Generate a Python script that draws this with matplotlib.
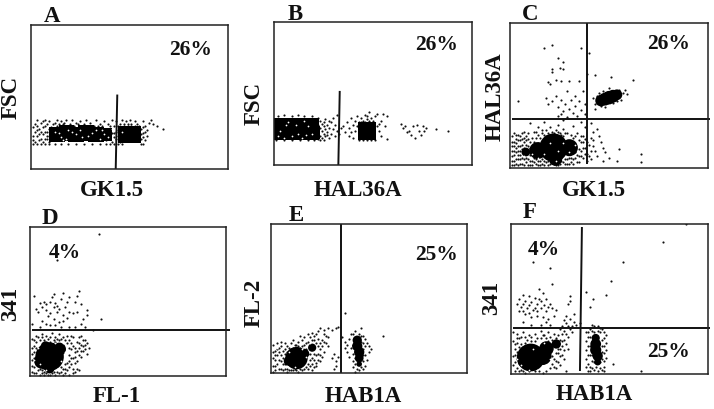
import matplotlib
matplotlib.use("Agg")
import matplotlib.pyplot as plt

plt.rcParams["font.family"] = ["Liberation Serif", "DejaVu Serif"]
plt.rcParams["font.weight"] = "bold"

W, H = 714, 409

# panel boxes in image pixels: left, right, top, bottom
boxes = [(31, 228, 25, 169), (274, 472, 22, 165), (510, 708, 23, 168),
         (30, 226, 227, 376), (271, 467, 224, 373), (511, 708, 224, 374)]

# dense parts of each plot: x, y in percent of the panel, then mark area
a_core = [(13, 24, 130), (18, 25, 130), (23, 24, 130), (28, 25, 130), (33, 24, 130), (38, 24, 85),
          (48.5, 24, 140), (51.5, 24, 140)]
b_core = [(4, 25.5, 250), (9, 25.5, 250), (13, 25.5, 250), (17, 25.5, 250), (20, 23, 90), (47, 23.5, 170)]
c_core = [(22, 14, 420), (14, 12, 150), (30, 14, 150), (23, 6, 90), (8, 11, 40),
          (46, 46.5, 70), (48, 47.5, 85), (50, 48.5, 95), (52, 49.5, 85), (54, 50.5, 60)]
d_core = [(10, 13, 420), (6, 10, 120), (15, 18, 90), (8, 20, 50), (10, 5, 50)]
e_core = [(13, 10, 260), (9, 8, 50), (17, 13, 50), (21, 17, 35),
          (44, 22, 45), (44, 18, 55), (45, 14, 55), (45, 10, 40), (45, 6, 16)]
f_core = [(10, 11, 400), (16, 12, 170), (18, 17, 110), (23, 20, 45), (6, 8, 50),
          (43, 24, 35), (43, 20, 60), (43, 16, 65), (44, 12, 55), (44, 8, 25)]

# single events, x and y in percent of the panel
a_dots = [(x, 17.6) for x in [1, 3, 5, 7, 9, 12, 15, 19, 23, 27, 31, 35, 38, 40, 42, 44, 46, 56, 57]] + [
    (1, 20), (2, 26), (2, 31), (3, 23), (3, 34), (4, 20), (4, 28), (5, 32), (6, 24), (6, 29), (7, 21), (7, 34),
    (8, 26), (8, 31), (9, 23), (9, 33), (10, 29), (12, 32), (13, 34), (14, 31), (15, 33), (17, 32), (18, 34),
    (20, 31), (21, 34), (23, 32), (25, 33), (27, 31), (28, 34), (30, 32), (32, 30), (33, 34), (35, 31), (37, 33),
    (38, 28), (38, 20), (39, 24), (39, 31), (40, 22), (40, 27), (41, 34), (41, 19), (42, 25), (42, 30), (43, 21),
    (43, 33), (44, 27), (44, 23), (45, 31), (45, 19), (46, 28), (46, 34), (47, 31), (48, 33), (49, 30), (50, 34),
    (51, 31), (52, 29), (53, 33), (54, 31), (55, 30), (55, 27), (56, 24), (56, 21), (57, 29), (57, 33), (58, 26),
    (58, 20), (59, 23), (60, 32), (61, 34), (62, 31), (67, 28), (64, 30),
    (1, 23), (1, 29), (2, 19), (3, 27), (3, 30), (4, 24), (5, 21), (5, 26), (6, 19), (6, 33), (7, 26), (7, 30),
    (8, 21), (8, 23), (9, 19), (9, 28), (10, 25), (10, 21), (11, 31), (11, 27), (13, 30), (16, 31), (19, 30),
    (22, 30), (24, 31), (26, 30), (29, 30), (31, 30), (34, 30), (36, 30), (39, 28), (40, 30), (41, 25), (42, 22),
    (43, 26), (44, 30), (45, 25), (46, 22), (47, 30), (49, 31), (51, 30), (53, 30), (55, 23), (56, 28), (57, 22),
    (57, 25), (58, 30), (59, 27)]
a_specks = [(14, 25), (19, 27), (23, 24), (25, 27), (29, 23), (33, 27), (18, 21), (12, 26), (37, 24), (27, 19),
            (35, 21), (16, 20), (21, 26), (31, 25), (46, 26), (39, 22), (41, 28), (15, 22), (26, 22), (36, 27)]

b_dots = [(x, 17.3) for x in [1, 5, 9, 13, 17, 20, 23, 25, 43, 45, 47, 49, 51]] + [
    (2, 34), (5, 35), (9, 34), (12, 35), (15, 34), (19, 34), (22, 33), (23, 31), (24, 29), (25, 27), (26, 25),
    (26, 20), (27, 28), (27, 23), (28, 19), (28, 26), (29, 30), (29, 22), (30, 25), (30, 33), (31, 20), (31, 28),
    (32, 35), (32, 24), (35, 27), (36, 23), (37, 30), (38, 20), (38, 26), (39, 33), (39, 23), (40, 28), (40, 19),
    (41, 31), (41, 24), (42, 34), (42, 27), (43, 30), (44, 33), (45, 31), (46, 35), (47, 32), (48, 37), (49, 33),
    (50, 31), (51, 34), (52, 36), (53, 29), (53, 24), (54, 31), (54, 20), (55, 36), (56, 27), (57, 34), (57, 18),
    (64, 29), (65, 26), (66, 27), (67, 23), (69, 21), (70, 27), (71, 19), (72, 28), (73, 24), (74, 21), (75, 27),
    (76, 24), (77, 26), (82, 25), (88, 24), (68, 24),
    (46, 30), (47, 34), (48, 31), (49, 29), (45, 29), (44, 30), (50, 29), (21, 31), (22, 28), (23, 26), (24, 24),
    (25, 22), (23, 20), (24, 19), (22, 18), (25, 30), (26, 32), (27, 21), (28, 31), (33, 22), (34, 26), (52, 27)]
b_specks = [(3, 24), (7, 30), (11, 28), (15, 31), (19, 22), (2, 20), (12, 22), (17, 27), (6, 28), (9, 20), (14, 19),
            (5, 19), (16, 21)]

c_dots = [(17, 83), (21, 85), (36, 83), (40, 79), (24, 76), (27, 73), (27, 68), (21, 68), (21, 66), (25, 69), (19, 59),
          (20, 58), (23, 61), (26, 60), (30, 60), (35, 60), (39, 65), (43, 64), (51, 63), (62, 61), (4, 46), (18, 48),
          (19, 44), (21, 46), (23, 50), (24, 42), (26, 47), (27, 39), (28, 44), (29, 53), (30, 41), (31, 47), (32, 38),
          (33, 50), (33, 43), (35, 46), (36, 40), (37, 53), (38, 37), (38, 44), (24, 36), (26, 37), (29, 35), (34, 36),
          (42, 48), (43, 44), (43, 41), (44, 50), (45, 52), (46, 43), (47, 53), (48, 42), (50, 55), (52, 45), (54, 46),
          (55, 54), (57, 52), (58, 54), (56, 47), (59, 51), (10, 31), (14, 28), (17, 32), (24, 30), (27, 33), (32, 29),
          (36, 32), (38, 28), (41, 31), (42, 25), (44, 27), (45, 22), (46, 18), (47, 14), (48, 11), (50, 7), (54, 5),
          (47, 5), (55, 13), (66, 4), (66, 10), (41, 21), (42, 15), (43, 12), (44, 8), (41, 6), (39, 10), (39, 18),
          (37, 22), (36, 8), (35, 4), (34, 24), (32, 21), (33, 11), (31, 7), (29, 3), (29, 24), (27, 27), (26, 5),
          (24, 2), (23, 26), (20, 28), (21, 22), (18, 22), (17, 5), (16, 24), (15, 8), (14, 2), (13, 21), (12, 11),
          (12, 25), (11, 5), (10, 18), (10, 9), (9, 15), (9, 2), (8, 22), (8, 11), (7, 6), (7, 18), (6, 24), (6, 13),
          (5, 3), (5, 19), (5, 9), (4, 15), (4, 23), (3, 6), (3, 11), (3, 20), (2, 2), (2, 15), (2, 24), (1, 8),
          (1, 18), (1, 12), (1, 2), (37, 14), (36, 18), (35, 13), (11, 14), (13, 9), (16, 11), (17, 19), (14, 17),
          (1, 5), (1, 15), (1, 22), (2, 5), (2, 9), (2, 12), (2, 18), (3, 3), (3, 14), (3, 17), (3, 23), (4, 2), (4, 6),
          (4, 9), (4, 12), (4, 19), (5, 6), (5, 12), (5, 15), (5, 22), (6, 3), (6, 7), (6, 16), (6, 20), (7, 2), (7, 10),
          (7, 14), (7, 21), (7, 25), (8, 4), (8, 7), (8, 16), (8, 19), (9, 6), (9, 20), (9, 24), (10, 2), (10, 5), (10, 14),
          (11, 2), (11, 9), (11, 21), (12, 4), (12, 7), (12, 18), (13, 3), (13, 6), (13, 25), (14, 5), (14, 23), (15, 2),
          (15, 5), (15, 21), (16, 3), (16, 6), (16, 26), (17, 2), (17, 8), (17, 23), (18, 4), (18, 7), (18, 26), (19, 2),
          (19, 5), (19, 24), (20, 3), (20, 7), (21, 5), (21, 25), (22, 3), (22, 24), (23, 2), (23, 22), (24, 4), (24, 25),
          (25, 3), (25, 24), (26, 7), (26, 23), (27, 4), (27, 22), (28, 6), (28, 3), (28, 24), (29, 6), (30, 3), (30, 7),
          (31, 4), (31, 23), (32, 6), (32, 3), (33, 7), (33, 22), (34, 4), (34, 9), (35, 8), (35, 19), (36, 12), (36, 22),
          (37, 7), (37, 18), (38, 10), (38, 20), (38, 14), (39, 5), (40, 16), (40, 8), (41, 12), (42, 19)]
c_specks = [(20, 17), (24, 12), (27, 17), (17, 10), (30, 11), (23, 5), (11, 10), (33, 16), (7, 8), (14, 7)]

d_dots = [(35, 95), (14, 78), (25, 57), (24, 54), (17, 56), (12, 55), (20, 53), (2, 54), (11, 53), (16, 52),
          (19, 50), (23, 50), (26, 48), (5, 49), (7, 50), (8, 48), (10, 50), (13, 49), (14, 47), (3, 45), (4, 43),
          (6, 46), (8, 44), (10, 42), (12, 46), (14, 43), (15, 45), (17, 41), (18, 46), (20, 43), (22, 42), (24, 43),
          (29, 44), (29, 41), (36, 38), (27, 38), (17, 37), (19, 39), (15, 36), (12, 38), (9, 40), (6, 37), (5, 33),
          (8, 35), (10, 34), (13, 34), (16, 33), (20, 33), (23, 33), (26, 35), (28, 33), (32, 31), (1, 35),
          (25, 26), (27, 24), (29, 22), (30, 19), (29, 15), (28, 21), (27, 17), (26, 13), (25, 19), (24, 23), (26, 27),
          (23, 16), (22, 26), (23, 9), (21, 27), (20, 24), (19, 27), (17, 26), (15, 28), (13, 26), (11, 29), (8, 27),
          (6, 28), (3, 27), (1, 25), (24, 5), (23, 3), (25, 4), (22, 2), (20, 1), (18, 2), (20, 6), (18, 8), (21, 12),
          (2, 2), (4, 4), (1, 7), (6, 2), (3, 9), (9, 1), (12, 3), (15, 2), (16, 6), (1, 15), (2, 20), (3, 23), (21, 18),
          (1, 3), (1, 11), (1, 19), (2, 6), (2, 12), (2, 16), (2, 24), (3, 2), (3, 13), (3, 19), (4, 8), (4, 26), (5, 1),
          (5, 5), (5, 24), (6, 4), (6, 26), (7, 1), (7, 3), (7, 24), (8, 2), (9, 25), (10, 1), (10, 23), (10, 26), (11, 2),
          (12, 24), (13, 1), (13, 23), (14, 3), (14, 25), (15, 24), (16, 3), (16, 25), (17, 1), (17, 5), (18, 5), (18, 24),
          (19, 4), (19, 9), (19, 22), (20, 10), (20, 14), (20, 19), (21, 8), (21, 22), (22, 5), (22, 12), (22, 20), (23, 13),
          (23, 19), (24, 10), (24, 17), (25, 14), (25, 22), (26, 17), (26, 21), (27, 20), (28, 18), (28, 24)]
d_specks = [(3, 5), (5, 8), (2, 11), (16, 10), (19, 12), (14, 5), (4, 19), (17, 22), (8, 4), (13, 22), (18, 16)]

e_dots = [(38, 40), (57, 25), (34, 31), (33, 30), (31, 29), (29, 30), (27, 29), (25, 30), (24, 28), (23, 26), (28, 25),
          (29, 24), (27, 26), (26, 22), (25, 20), (24, 23), (22, 22), (20, 24), (21, 27), (19, 26), (18, 20), (17, 24),
          (16, 22), (15, 25), (14, 21), (13, 19), (11, 22), (10, 20), (9, 17), (7, 20), (5, 21), (3, 20), (1, 19),
          (2, 15), (4, 17), (6, 15), (1, 10), (3, 12), (5, 8), (7, 6), (2, 5), (4, 3), (1, 1), (6, 2), (8, 3), (10, 2),
          (13, 2), (16, 2), (19, 3), (21, 2), (23, 5), (25, 8), (22, 9), (27, 14), (24, 13), (29, 18), (31, 10), (32, 13),
          (33, 8), (34, 11), (33, 5), (32, 3), (36, 24), (38, 21), (38, 17), (39, 14), (39, 19), (40, 23), (40, 11),
          (41, 17), (41, 26), (42, 8), (42, 4), (42, 26), (43, 28), (46, 30), (47, 25), (48, 23), (49, 20), (50, 18),
          (47, 16), (48, 12), (50, 14), (51, 16), (49, 9), (47, 8), (47, 3), (45, 2), (43, 1), (44, 24), (46, 21),
          (1, 5), (1, 14), (2, 2), (2, 9), (2, 12), (3, 6), (3, 16), (4, 9), (4, 14), (5, 3), (5, 12), (5, 18), (6, 6),
          (6, 10), (7, 3), (7, 13), (7, 16), (8, 1), (8, 14), (8, 18), (9, 2), (9, 14), (10, 16), (11, 2), (11, 17), (12, 3),
          (12, 19), (13, 17), (14, 1), (14, 18), (15, 3), (15, 17), (16, 18), (17, 3), (17, 19), (18, 4), (18, 16), (19, 6),
          (19, 13), (19, 21), (20, 5), (20, 9), (20, 13), (21, 6), (21, 10), (21, 22), (22, 4), (22, 13), (22, 25), (23, 7),
          (23, 12), (23, 20), (24, 9), (24, 18), (25, 12), (25, 16), (26, 11), (26, 18), (27, 21), (28, 20), (42, 13),
          (42, 19), (43, 6), (43, 10), (46, 25), (46, 17), (46, 4), (47, 12), (47, 20), (48, 5), (48, 18), (44, 3), (45, 26)]
e_specks = [(4, 6), (9, 14), (3, 17), (18, 11), (8, 5), (20, 20), (12, 4), (16, 16)]

f_dots = [(89, 100), (77, 88), (57, 75), (51, 62), (48, 53), (41.5, 50), (38, 55), (40, 45), (11, 75), (20, 71), (21, 60),
          (30, 52), (30, 49), (29, 47), (14, 57), (6, 53), (9, 52), (12, 51), (16, 54), (18, 50), (4, 50), (7, 49),
          (10, 48), (13, 47), (15, 49), (17, 46), (20, 47), (3, 47), (5, 45), (8, 44), (11, 43), (13, 42), (15, 44),
          (18, 42), (21, 44), (23, 43), (7, 40), (10, 38), (13, 39), (16, 38), (19, 37), (22, 39), (6, 35), (10, 33),
          (15, 33), (18, 35), (20, 33), (28, 39), (27, 36), (32, 40), (30, 37), (32, 35), (33, 33), (35, 34), (31, 32),
          (29, 32), (28, 34), (26, 32), (25, 30), (27, 29), (28, 27), (29, 25), (30, 30), (31, 28), (26, 27), (27, 23),
          (25, 17), (26, 13), (27, 10), (24, 14), (23, 9), (25, 6), (22, 5), (20, 4), (18, 2), (16, 1), (28, 2),
          (1, 28), (3, 27), (6, 28), (9, 26), (12, 27), (15, 29), (1, 22), (2, 17), (1, 12), (1, 6), (2, 2), (5, 3),
          (3, 21), (4, 24), (19, 28), (22, 27), (17, 26),
          (38, 28), (38, 22), (38, 16), (38, 10), (38, 5), (39, 25), (39, 19), (39, 13), (39, 7), (39, 2), (40, 30),
          (41, 29), (41, 4), (41, 9), (42, 3), (43, 5), (44, 2), (45, 4), (46, 3), (47, 5), (47, 9), (47, 14), (47, 19),
          (47, 24), (47, 28), (46, 30), (48, 11), (48, 16), (48, 21), (48, 26), (45, 31), (44, 32), (42, 32), (41, 33),
          (52, 7), (66, 2), (40, 13), (46, 23),
          (2, 8), (2, 13), (2, 20), (3, 4), (3, 10), (3, 15), (3, 24), (4, 2), (4, 14), (4, 18), (5, 20), (5, 25), (6, 2),
          (6, 18), (7, 1), (7, 21), (7, 25), (8, 23), (9, 2), (10, 22), (10, 25), (12, 2), (12, 22), (13, 24), (14, 2),
          (15, 24), (16, 26), (18, 24), (19, 22), (20, 25), (21, 23), (23, 24), (24, 26), (25, 23), (26, 22), (21, 7),
          (22, 10), (23, 4), (24, 8), (25, 12), (21, 12), (23, 14), (27, 16), (26, 19), (28, 20), (29, 17), (24, 17),
          (40, 5), (40, 19), (40, 25), (41, 13), (41, 19), (42, 8), (42, 28), (45, 8), (45, 28), (46, 10), (46, 15), (46, 19),
          (39, 28), (40, 2), (44, 29), (47, 2), (6, 47), (9, 46), (12, 44), (14, 50), (19, 45), (4, 42), (6, 42), (9, 41)]
f_specks = [(3, 10), (5, 6), (2, 15), (20, 10), (22, 13), (9, 3), (17, 21), (13, 3), (6, 20), (11, 17)]

cores = [a_core, b_core, c_core, d_core, e_core, f_core]
core_marks = ["s", "s", "o", "o", "o", "o"]
dots = [a_dots, b_dots, c_dots, d_dots, e_dots, f_dots]
specks = [a_specks, b_specks, c_specks, d_specks, e_specks, f_specks]

# gate lines: (x0, y0, x1, y1) in percent of the panel
gates = [[(43.8, 51.7, 43, 0)],
         [(33.2, 51.8, 32.5, 0)],
         [(39, 100, 39, 3), (1, 34, 101, 34)],
         [(1, 30.8, 102, 30.8)],
         [(35.7, 100, 35.7, 0)],
         [(36, 98, 35, 2), (1, 30.9, 101, 30.9)]]

# label text with its centre in image pixels
letters = [("A", 52, 17), ("B", 295, 14), ("C", 530, 14), ("D", 50, 218), ("E", 296, 215), ("F", 530, 213)]
xlabels = [("GK1.5", 112, 190), ("HAL36A", 358, 191), ("GK1.5", 594, 190),
           ("FL-1", 117, 396), ("HAB1A", 363, 397), ("HAB1A", 594, 395)]
ylabels = [("FSC", 11, 97), ("FSC", 254, 103), ("HAL36A", 495, 97),
           ("341", 11, 304), ("FL-2", 254, 303), ("341", 492, 298)]
percents = [("26%", 191, 50), ("26%", 437, 45), ("26%", 669, 44),
            ("4%", 65, 253), ("25%", 436, 255), ("4%", 544, 250), ("25%", 669, 352)]

fig = plt.figure(figsize=(W / 100, H / 100), dpi=100)

for i, (l, r, t, b) in enumerate(boxes):
    ax = fig.add_axes([l / W, 1 - b / H, (r - l) / W, (b - t) / H])
    ax.set_xlim(0, 100)
    ax.set_ylim(0, 100)
    ax.set_xticks([])
    ax.set_yticks([])
    for side in ax.spines.values():
        side.set_linewidth(1.1)
        side.set_color("#222222")
    ax.scatter(*zip(*dots[i]), s=2.4, color="#111111", linewidths=0)
    core_x, core_y, core_s = zip(*cores[i])
    ax.scatter(core_x, core_y, s=core_s, marker=core_marks[i], color="black", linewidths=0)
    ax.scatter(*zip(*specks[i]), s=1.6, color="white", linewidths=0)
    for x0, y0, x1, y1 in gates[i]:
        ax.plot([x0, x1], [y0, y1], color="#111111", lw=1.4, clip_on=False, solid_capstyle="butt")


def put(items, size, rotation=0):
    for text, x, y in items:
        fig.text(x / W, 1 - y / H, text, fontsize=size, rotation=rotation, ha="center", va="center", color="#111111")


put(letters, 16.5)
put(xlabels, 16.5)
put(ylabels, 16.5, rotation=90)
put(percents, 15.5)

fig.savefig("out.png", dpi=100)
